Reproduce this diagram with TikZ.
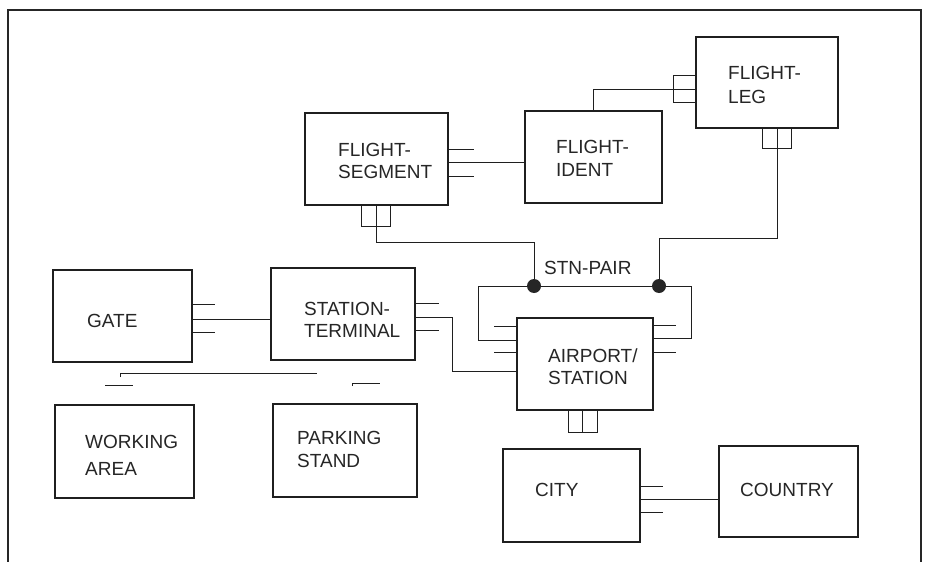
\documentclass[tikz,border=0pt]{standalone}
\usepackage{fontspec}
\setmainfont{Liberation Sans}
\begin{document}
\begin{tikzpicture}[x=1pt,y=-1pt,
  box/.style={draw=black!88, line width=1.3pt, rectangle, inner sep=0pt},
  conn/.style={draw=black!88, line width=1pt},
  foot/.style={draw=black!88, line width=1pt},
  frame/.style={draw=black!85, line width=1.6pt},
  lbl/.style={anchor=north west, align=left, inner sep=0pt, text=black!85, font=\fontsize{19}{#1}\selectfont},
  lbl/.default=22,
  dot/.style={circle, fill=black!85, inner sep=0pt, minimum size=14pt}]
\useasboundingbox (0,0) rectangle (929,562);
\fill[white] (0,0) rectangle (929,562);
% outer frame
\draw[frame] (8,580) -- (8,10) -- (921,10) -- (921,580);

% boxes
\node[box, minimum width=143, minimum height=92] (seg) at (376.5,159) {};
\node[box, minimum width=137, minimum height=92] (ident) at (593.5,157) {};
\node[box, minimum width=142, minimum height=91] (leg) at (767,82.5) {};
\node[box, minimum width=139, minimum height=92] (gate) at (122.5,316) {};
\node[box, minimum width=144, minimum height=92] (term) at (343,314) {};
\node[box, minimum width=139, minimum height=93] (work) at (124.5,451.5) {};
\node[box, minimum width=144, minimum height=93] (park) at (345,450.5) {};
\node[box, minimum width=136, minimum height=92] (air) at (585,364) {};
\node[box, minimum width=137, minimum height=93] (city) at (571.5,495.5) {};
\node[box, minimum width=139, minimum height=91] (country) at (788.5,491.5) {};

% labels
\node[lbl=22] (segT) at (338,142.7) {FLIGHT-\\SEGMENT};
\node[lbl=23] (identT) at (556,140.2) {FLIGHT-\\IDENT};
\node[lbl=24] (legT) at (728,66.2) {FLIGHT-\\LEG};
\node[lbl] (gateT) at (87,314.2) {GATE};
\node[lbl=22] (termT) at (304,302.5) {STATION-\\TERMINAL};
\node[lbl=27] (workT) at (85,435.2) {WORKING\\AREA};
\node[lbl=23] (parkT) at (297,431.2) {PARKING\\STAND};
\node[lbl=22] (airT) at (548,348.2) {AIRPORT/\\STATION};
\node[lbl] (stnT) at (544,261.2) {STN-PAIR};
\node[lbl] (cityT) at (535,483.2) {CITY};
\node[lbl] (countryT) at (740,483.2) {COUNTRY};

% FLIGHT-SEGMENT -- FLIGHT-IDENT
\draw[conn] (seg.east |- 0,162) -- (ident.west |- 0,162);
\draw[foot] (seg.east |- 0,149) -- ++(25,0) (seg.east |- 0,176) -- ++(25,0);

% FLIGHT-IDENT -- FLIGHT-LEG
\draw[conn] (ident.north) -- (ident.north |- 0,89) -- (leg.west |- 0,89);
\draw[foot] (leg.west |- 0,75) -- ++(-22,0) -- ++(0,27) -- ++(22,0);

% STN-PAIR relationship
\coordinate (pl) at (478,286);
\coordinate (pr) at (691,286);
\coordinate (d1c) at (534,286);
\coordinate (d2c) at (659,286);
\draw[conn] (seg.south) -- (seg.south |- 0,242) -| (d1c);
\draw[foot] (seg.south -| 361,0) -- ++(0,21) -- ++(29,0) -- ++(0,-21);
\draw[conn] (leg.south -| 777,0) -- (777,238) -| (d2c);
\draw[foot] (leg.south -| 762,0) -- ++(0,20) -- ++(29,0) -- ++(0,-20);
\draw[conn] (air.west |- 0,340) -| (pl) -- (pr) |- (air.east |- 0,338);
\draw[foot] (air.west |- 0,326) -- ++(-22,0) (air.west |- 0,352) -- ++(-22,0);
\draw[foot] (air.east |- 0,325) -- ++(22,0) (air.east |- 0,352) -- ++(22,0);
\node[dot] (d1) at (d1c) {};
\node[dot] (d2) at (d2c) {};

% STATION-TERMINAL -- AIRPORT/STATION
\draw[conn] (term.east |- 0,317) -- (452,317) |- (air.west |- 0,371);
\draw[foot] (term.east |- 0,303) -- ++(23,0) (term.east |- 0,330) -- ++(23,0);

% GATE -- STATION-TERMINAL
\draw[conn] (gate.east |- 0,319) -- (term.west |- 0,319);
\draw[foot] (gate.east |- 0,304) -- ++(22,0) (gate.east |- 0,332) -- ++(22,0);

% faded fragments above WORKING AREA / PARKING STAND
\draw[conn] (120,377) -- (120,373) -- (317,373);
\draw[foot] (105,385) -- (133,385);
\draw[foot] (352,386) -- (352,383) -- (380,383);

% AIRPORT/STATION bottom
\draw[foot] (air.south -| 568,0) -- ++(0,22) -- ++(29,0) -- ++(0,-22);
\draw[conn] (air.south -| 582,0) -- ++(0,22);

% CITY -- COUNTRY
\draw[conn] (city.east |- 0,499) -- (country.west |- 0,499);
\draw[foot] (city.east |- 0,486) -- ++(22,0) (city.east |- 0,512) -- ++(22,0);
\end{tikzpicture}
\end{document}
